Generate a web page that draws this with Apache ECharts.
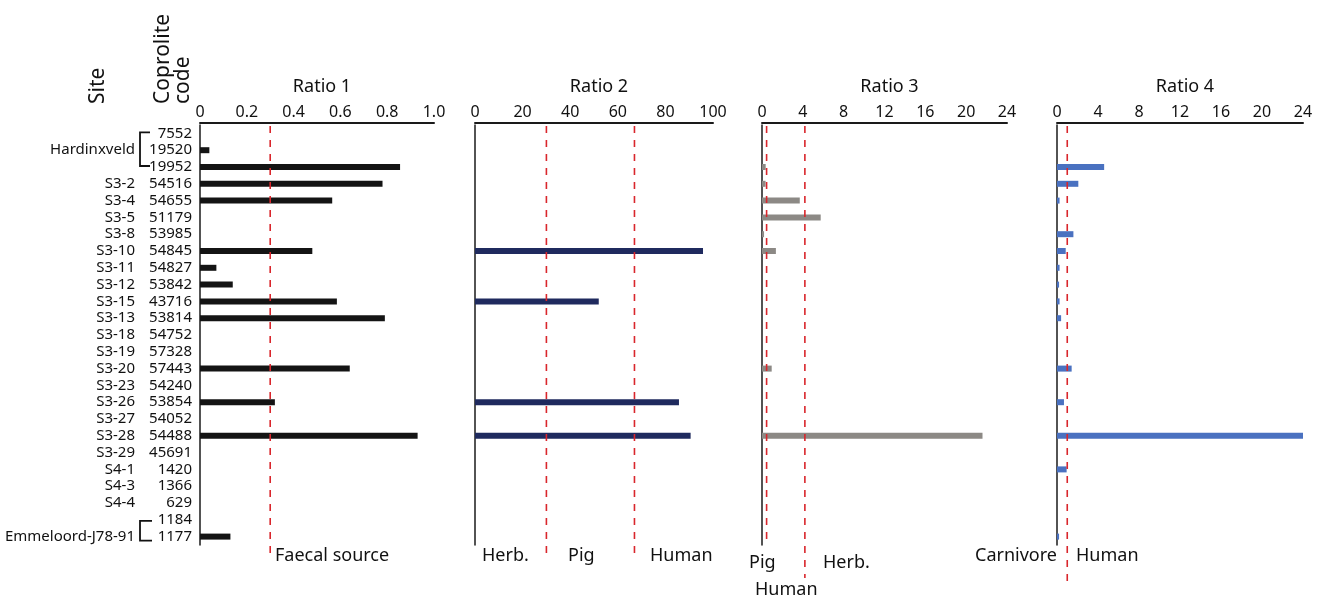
<!DOCTYPE html>
<html><head><meta charset="utf-8">
<script src="https://cdn.jsdelivr.net/npm/echarts@6/dist/echarts.min.js"></script>
<style>html,body{margin:0;padding:0;background:#fff}#c{width:1327px;height:600px}</style>
</head><body><div id="c"></div>
<script>
const codes = ['7552','19520','19952','54516','54655','51179','53985','54845','54827','53842','43716','53814','54752','57328','57443','54240','53854','54052','54488','45691','1420','1366','629','1184','1177'];
const sites = ['','Hardinxveld','','S3-2','S3-4','S3-5','S3-8','S3-10','S3-11','S3-12','S3-15','S3-13','S3-18','S3-19','S3-20','S3-23','S3-26','S3-27','S3-28','S3-29','S4-1','S4-3','S4-4','','Emmeloord-J78-91'];
const ratio1 = [null,0.04,0.855,0.78,0.565,null,null,0.48,0.07,0.14,0.585,0.79,null,null,0.64,null,0.32,null,0.93,null,null,null,null,null,0.13];
const ratio2 = [null,null,null,null,null,null,null,95.8,null,null,52,null,null,null,null,null,85.7,null,90.6,null,null,null,null,null,null];
const ratio3 = [null,null,0.36,0.35,3.7,5.75,0.2,1.36,null,null,null,null,null,null,0.95,null,null,null,21.6,null,null,null,null,null,null];
const ratio4 = [null,null,4.6,2.08,0.25,null,1.6,0.85,0.25,0.2,0.25,0.4,null,null,1.43,null,0.68,null,24,null,0.94,null,null,null,0.2];
const titles = ['Ratio 1','Ratio 2','Ratio 3','Ratio 4'];
const axisMax = [1, 100, 24, 24];
const axisInterval = [0.2, 20, 4, 4];
const thresholds = [[0.3],[30,67],[0.45,4.2],[1]];
const zoneLabels = [
  [{t:'Faecal source',x:275,y:556}],
  [{t:'Herb.',x:482,y:556},{t:'Pig',x:568,y:556},{t:'Human',x:650,y:556}],
  [{t:'Pig',x:749,y:563},{t:'Herb.',x:823,y:563},{t:'Human',x:755,y:590}],
  [{t:'Carnivore',x:975,y:556},{t:'Human',x:1076,y:556}]
];
const dashBottom = [[557],[558,558],[543,578],[582]];

const FONT = 'Noto Sans';
const colors = ['#141414','#1f2a5e','#8c8985','#4a71c0'];
const series = [ratio1, ratio2, ratio3, ratio4];
const gridLeft = [200, 475, 762, 1057];
const gridWidth = [234, 238, 245, 246];
const TOP = 125, HEIGHT = 420;

const chart = echarts.init(document.getElementById('c'));
const grids = [], xAxes = [], yAxes = [], ser = [], tit = [];
for (let i = 0; i < 4; i++) {
  grids.push({left: gridLeft[i], width: gridWidth[i], top: TOP, height: HEIGHT, containLabel: false});
  xAxes.push({
    type: 'value', gridIndex: i, position: 'top', offset: 2, min: 0, max: axisMax[i], interval: axisInterval[i],
    axisLine: {show: true, lineStyle: {color: '#1a1a1a', width: 2}},
    axisTick: {show: false}, splitLine: {show: false},
    axisLabel: {color: '#111', fontFamily: FONT, fontSize: 16, margin: 3,
      formatter: v => i === 0 ? (v === 0 ? '0' : v.toFixed(1)) : String(v)}
  });
  yAxes.push({
    type: 'category', gridIndex: i, data: codes, inverse: true,
    axisLine: {show: true, onZero: false, lineStyle: {color: '#1a1a1a', width: 1.5}},
    axisTick: {show: false},
    axisLabel: i === 0 ? {show: true, interval: 0, color: '#111', fontFamily: FONT, fontSize: 15, margin: 8} : {show: false}
  });
  ser.push({
    type: 'bar', xAxisIndex: i, yAxisIndex: i, data: series[i], barWidth: 6,
    itemStyle: {color: colors[i]}, silent: true, animation: false
  });
  tit.push({text: titles[i], left: gridLeft[i] + gridWidth[i] / 2, top: 73, textAlign: 'center',
    textStyle: {fontFamily: FONT, fontSize: 18, fontWeight: 'normal', color: '#111'}});
}
// site column as a second category axis on grid 0
yAxes.push({
  type: 'category', gridIndex: 0, data: sites, inverse: true, position: 'left',
  axisLine: {show: false}, axisTick: {show: false},
  axisLabel: {show: true, interval: 0, color: '#111', fontFamily: FONT, fontSize: 15, margin: 65}
});

chart.setOption({
  animation: false,
  title: tit,
  grid: grids, xAxis: xAxes, yAxis: yAxes, series: ser
});

const g = [];
// red dashed threshold lines
for (let i = 0; i < 4; i++) {
  thresholds[i].forEach((v, k) => {
    const x = chart.convertToPixel({xAxisIndex: i}, v);
    g.push({type: 'line', silent: true, z: 10,
      shape: {x1: x, y1: TOP + 1, x2: x, y2: dashBottom[i][k]},
      style: {stroke: '#d9262c', lineWidth: 1.6, lineDash: [7, 7]}});
  });
  zoneLabels[i].forEach(l => g.push({type: 'text', x: l.x, y: l.y, silent: true,
    style: {text: l.t, fontFamily: FONT, fontSize: 18, fill: '#111', textAlign: 'left', textVerticalAlign: 'middle'}}));
}
// brackets
const yOf = c => chart.convertToPixel({yAxisIndex: 0}, c);
const bx = 140;
const h1 = yOf('7552') - 1, h2 = yOf('19952') - 1;
g.push({type: 'polyline', silent: true, shape: {points: [[bx + 10, h1], [bx, h1], [bx, h2], [bx + 10, h2]]},
  style: {stroke: '#111', lineWidth: 1.8, fill: null}});
const e1 = yOf('1184') + 1, e2 = yOf('1177') + 4;
g.push({type: 'polyline', silent: true, shape: {points: [[bx + 12, e1], [bx, e1], [bx, e2], [bx + 12, e2]]},
  style: {stroke: '#111', lineWidth: 1.8, fill: null}});
// rotated header texts
const hdr = [{t: 'Site', x: 98}, {t: 'Coprolite', x: 163}, {t: 'code', x: 183}];
hdr.forEach(h => g.push({type: 'text', x: h.x, y: 104, rotation: Math.PI / 2, silent: true,
  style: {text: h.t, fontFamily: FONT, fontSize: 21, fill: '#111', textAlign: 'left', textVerticalAlign: 'middle'}}));
chart.setOption({graphic: g});
</script></body></html>
